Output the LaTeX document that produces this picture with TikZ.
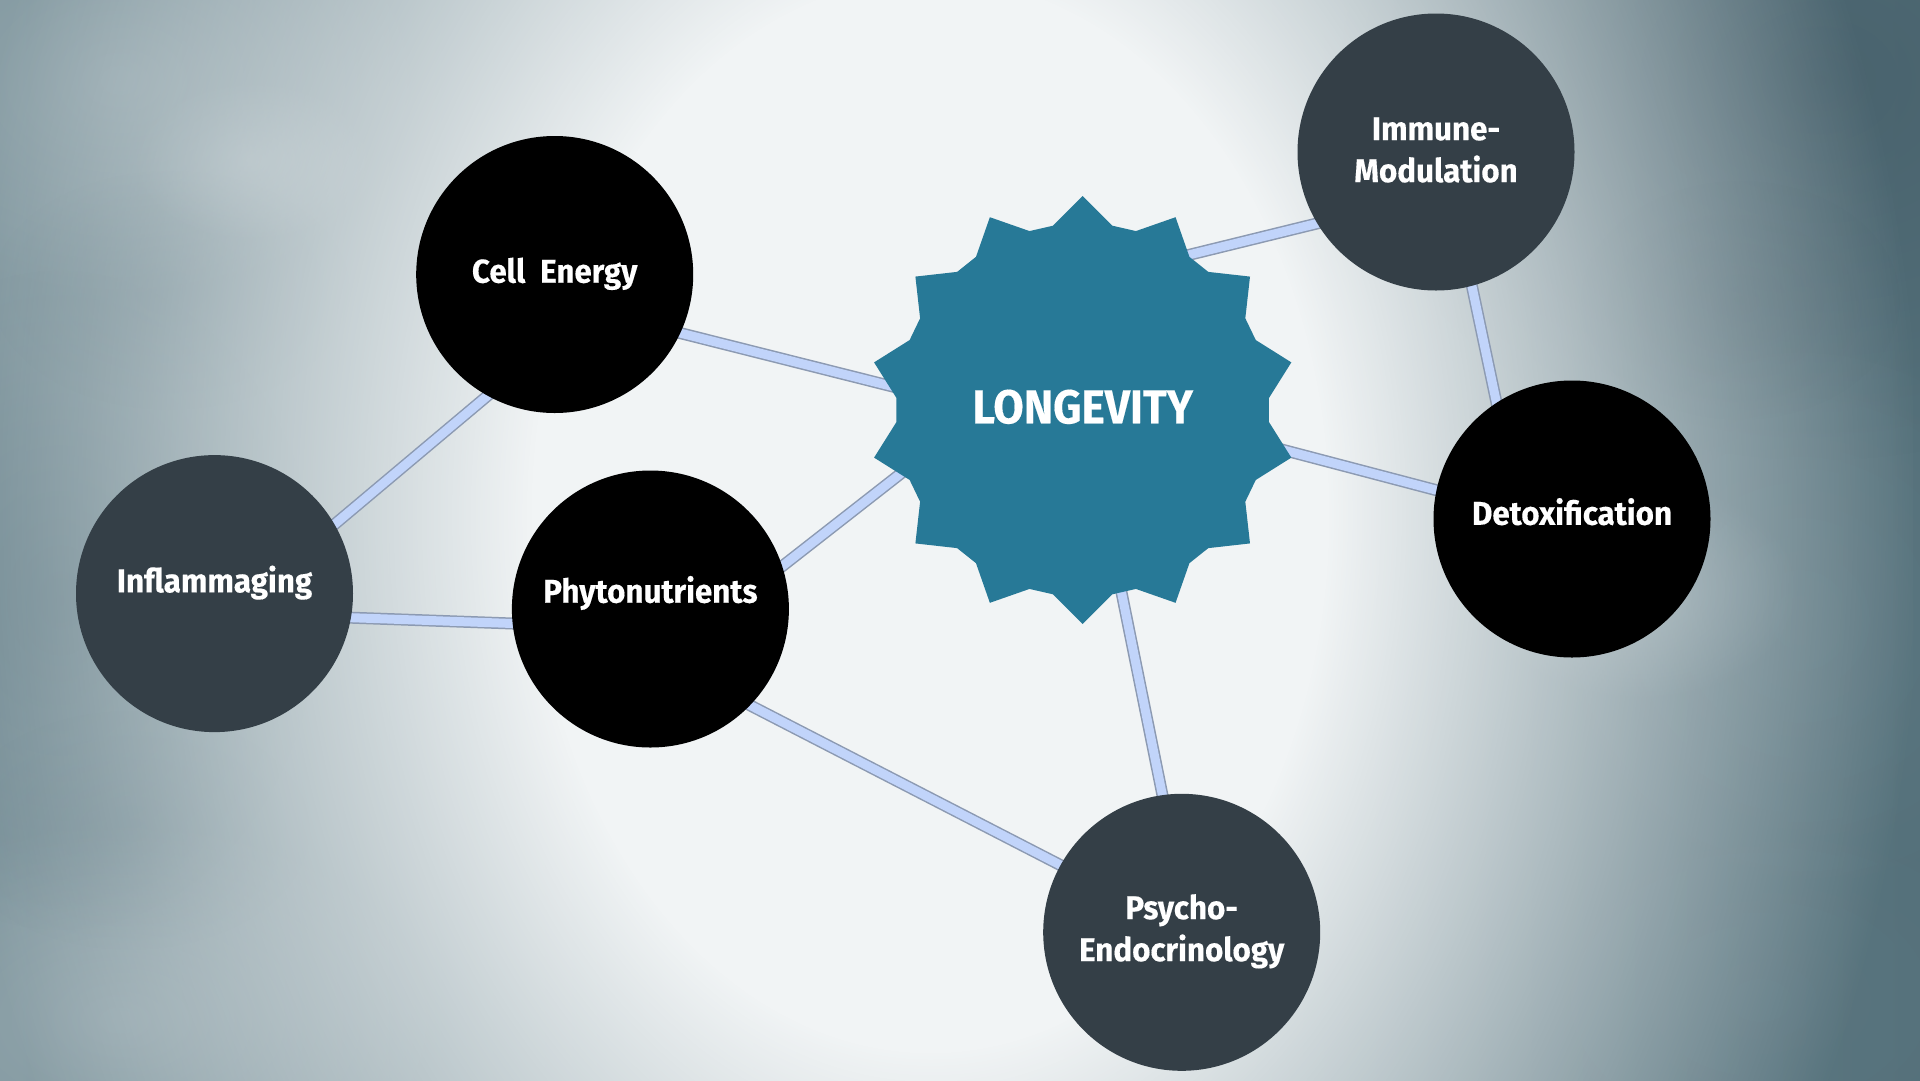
\documentclass[tikz,border=0pt]{standalone}
\usepackage{fontspec}
\setmainfont{Fira Sans}
\newfontfamily\lblfont{Fira Sans}[FakeStretch=0.95, FakeBold=0.3]
\newfontfamily\lonfont{Fira Sans}[FakeStretch=0.93, FakeBold=0.3]
\usetikzlibrary{calc,fadings}
\pgfdeclarelayer{bg}
\pgfdeclarelayer{lines}
\pgfsetlayers{bg,lines,main}
\pgfdeclareradialshading{glowshade}{\pgfpointorigin}{color(0bp)=(white); color(10bp)=(white); color(25bp)=(black); color(50bp)=(black)}
\pgfdeclarefading{glow}{\pgfuseshading{glowshade}}
\pgfdeclareradialshading{blobshade}{\pgfpointorigin}{color(0bp)=(white); color(25bp)=(black); color(50bp)=(black)}
\pgfdeclarefading{blob}{\pgfuseshading{blobshade}}
\definecolor{bgdark}{RGB}{84,112,122}
\definecolor{bgleft}{RGB}{126,149,157}
\definecolor{bglight}{RGB}{241,244,245}
\definecolor{cloudd}{RGB}{70,95,106}
\definecolor{cloudm}{RGB}{100,126,136}
\definecolor{cloudl}{RGB}{165,181,187}
\definecolor{starblue}{RGB}{39,121,151}
\definecolor{slate}{RGB}{52,63,71}
\definecolor{linefill}{RGB}{193,212,250}
\definecolor{lineedge}{RGB}{140,154,178}
\tikzset{
  bub/.style={circle, minimum size=277pt, inner sep=0pt, draw=none},
  blackbub/.style={bub, fill=black},
  slatebub/.style={bub, fill=slate},
  lblfontstyle/.style={text=white, font=\lblfont\bfseries\fontsize{33}{42}\selectfont},
  lbl/.style={lblfontstyle, text height=0pt, text depth=0pt},
  lbltwo/.style={lblfontstyle, align=center, inner sep=0pt},
  lonlbl/.style={text=white, font=\lonfont\bfseries\fontsize{47.5}{56}\selectfont, text height=0pt, text depth=0pt},
  conn/.style={draw=lineedge, line width=1.5pt, double=linefill, double distance=9pt, shorten <=-5pt, shorten >=-5pt},
  tolon/.style={conn, shorten >=-25pt},
  blobfill/.style={path fading=blob}
}
\begin{document}
\begin{tikzpicture}[x=1pt,y=-1pt]
\useasboundingbox (0,0) rectangle (1920,1080);
% background
\begin{pgfonlayer}{bg}
\shade[left color=bgleft, right color=bgdark] (0,0) rectangle (1920,1080);
\fill[cloudd, blobfill, fill opacity=0.8] (1820,80) ellipse (480 and 380);
\fill[cloudm, blobfill, fill opacity=0.6] (60,600) ellipse (260 and 330);
\fill[cloudl, blobfill, fill opacity=0.5] (120,80) ellipse (300 and 220);
\fill[cloudl, blobfill, fill opacity=0.5] (120,1020) ellipse (320 and 200);
\fill[cloudm, blobfill, fill opacity=0.5] (1800,620) ellipse (300 and 300);
\fill[cloudm, blobfill, fill opacity=0.3] (1760,1000) ellipse (320 and 220);
\fill[cloudm, blobfill, fill opacity=0.4] (170,290) ellipse (180 and 120);
\fill[cloudl, blobfill, fill opacity=0.5] (250,160) ellipse (120 and 80);
\fill[cloudd, blobfill, fill opacity=0.35] (1740,300) ellipse (160 and 120);
\fill[cloudl, blobfill, fill opacity=0.4] (1640,590) ellipse (160 and 110);
\fill[cloudm, blobfill, fill opacity=0.35] (130,830) ellipse (180 and 120);
\fill[bglight, path fading=glow] (-60,-820) rectangle (1920,1850);
\end{pgfonlayer}
% nodes
\node[blackbub, lbl] (cell) at (554.7,274.5) {\raisebox{-8.2pt}{Cell\ \ Energy}};
\node[slatebub, label={[lbltwo, yshift=2pt]center:{Immune-\\Modulation}}] (imm) at (1436,152) {};
\node[blackbub, lbl] (det) at (1572,519) {\raisebox{-5.8pt}{Detoxification}};
\node[slatebub, lbl] (inf) at (214.5,593.6) {\raisebox{1.3pt}{Inflammaging}};
\node[blackbub, lbl] (phy) at (650.4,609) {\raisebox{6.3pt}{Phytonutrients}};
\node[slatebub, label={[lbltwo, yshift=1pt]center:{Psycho-\\Endocrinology}}] (psy) at (1181.7,932.3) {};
% star
\coordinate (lonc) at (1082.7,410);
\fill[starblue] ($(lonc)+(90:214)+(-45:42)$)
  \foreach \k in {0,...,13}{
    -- ($(lonc)+({90+\k*360/14}:214)+({90+\k*360/14-135}:42)$)
    -- ($(lonc)+({90+\k*360/14}:214)$)
    -- ($(lonc)+({90+\k*360/14}:214)+({90+\k*360/14+135}:42)$)
  } -- cycle;
\node[circle, minimum size=380pt, inner sep=0pt, draw=none, lonlbl] (lon) at (lonc) {\raisebox{-13.3pt}{LONGEVITY}};
% connectors
\begin{pgfonlayer}{lines}
\draw[tolon] (cell.-25) -- (lon.173);
\draw[conn] (cell.241) -- (inf.30);
\draw[conn] (inf.-10) -- (phy.186);
\draw[tolon] (phy.18) -- (lon.199);
\draw[conn] (phy.-44) -- (psy.151);
\draw[tolon] (psy.98) -- (lon.-78);
\draw[tolon] (imm.211) -- (lon.55);
\draw[tolon] (det.168) -- (lon.-11);
\draw[conn] (imm.-75) -- (det.123);
\end{pgfonlayer}
\end{tikzpicture}
\end{document}
